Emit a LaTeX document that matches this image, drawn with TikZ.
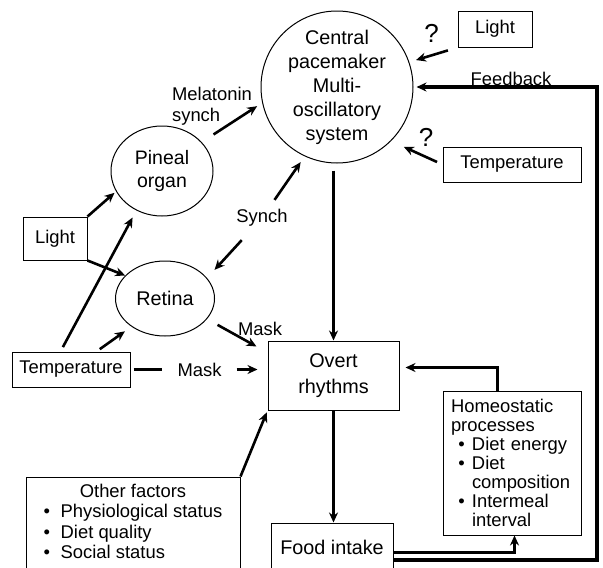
\documentclass[tikz,border=0pt]{standalone}
\usepackage{fontspec}
\setmainfont{Liberation Sans}
\usetikzlibrary{shapes.geometric, arrows.meta, calc}

\tikzset{
  box/.style={draw, line width=1pt, inner sep=0pt},
  oval/.style={ellipse, draw, line width=1pt, inner sep=0pt},
  arr/.style={line width=2.6pt, -{Stealth[length=10pt,width=9pt]}},
  lbl/.style={inner sep=0pt},
  big/.style={font=\fontsize{19.8}{24}\selectfont},
  qmark/.style={inner sep=0pt, font=\fontsize{26}{26}\selectfont},
}
\newcommand{\hbul}{\makebox[21pt]{\textbullet}}
\newcommand{\obul}{\makebox[17pt][l]{\textbullet}}

\begin{document}
\begin{tikzpicture}[x=1pt, y=-1pt, font=\fontsize{18.4}{24}\selectfont]
  \clip (0,0) rectangle (603,568);
  % clock and inputs
  \node[circle, draw, line width=1pt, minimum size=152pt, inner sep=0pt, align=center, big] (pace) at (337,87)
    {Central\\pacemaker\\Multi-\\oscillatory\\system};
  \node[oval, minimum width=102pt, minimum height=90pt, align=center, font=\fontsize{19.5}{23}\selectfont] (pineal) at (162,171) {Pineal\\organ};
  \node[oval, minimum width=99pt, minimum height=75pt, big] (retina) at (165,298.5) {Retina};
  \node[box, minimum width=64pt, minimum height=43pt] (lightL) at (55,238.5) {Light};
  \node[box, minimum width=118pt, minimum height=35pt] (tempL) at (71,369.5) {Temperature};
  \node[box, minimum width=74pt, minimum height=36pt] (lightR) at (495,29) {Light};
  \node[box, minimum width=138pt, minimum height=35pt] (tempR) at (512,164.5) {Temperature};
  % outputs
  \node[box, minimum width=131pt, minimum height=69pt, align=center, font=\fontsize{19.8}{26}\selectfont] (overt) at (333.5,375.5) {Overt\\rhythms};
  \node[box, minimum width=122pt, minimum height=48pt, big] (food) at (332,547) {Food intake};
  \node[box, minimum width=138pt, minimum height=144pt, text width=122pt, align=left, font=\fontsize{18.4}{19}\selectfont] (homeo) at (512,463)
    {Homeostatic\\processes\\\hbul Diet energy\\\hbul Diet\\\hspace*{21pt}composition\\\hbul Intermeal\\\hspace*{21pt}interval};
  \node[box, minimum width=214pt, minimum height=94pt, font=\fontsize{18.4}{20.5}\selectfont] (other) at (133,524)
    {\begin{tabular}{@{}l@{}}\multicolumn{1}{@{}c@{}}{Other factors}\\
     \obul Physiological status\hspace{6pt}\\ \obul Diet quality\\ \obul Social status\end{tabular}};
  % labels
  \node[lbl, align=left, font=\fontsize{18.4}{21}\selectfont] (melab) at (212,106) {Melatonin\\synch};
  \node[lbl] (synch) at (262,218) {Synch};
  \node[lbl] (maskR) at (260,329) {Mask};
  \node[lbl, inner xsep=15pt] (maskT) at (199.5,369.5) {Mask};
  \node[qmark] (q1) at (431.5,33) {?};
  \node[qmark] (q2) at (426,137.5) {?};
  \node[lbl] (fblab) at (511,79) {Feedback};
  % arrows
  \draw[arr, shorten >=2pt] (lightL.north east) -- (pineal.204);
  \draw[arr] (lightL.south east) -- (retina.150);
  \draw[arr, shorten <=5pt, shorten >=8pt] ($(tempL.north west)+(49,0)$) -- (pineal.237);
  \draw[arr, shorten <=4pt, shorten >=8pt] ($(tempL.north west)+(85,0)$) -- (retina.220);
  \draw[arr, shorten <=12pt] (retina.-26) -- ($(overt.north west)+(-11,6)$);
  \draw[line width=2.6pt, shorten <=3pt] (tempL.east) -- (maskT.west);
  \draw[arr, shorten >=10pt] (maskT.east) -- (maskT.east -| overt.west);
  \draw[arr, shorten >=2pt] (other.north east) -- (overt.south west);
  \draw[arr, shorten <=14pt, shorten >=6pt] (pineal.36) -- (pace.192);
  \draw[arr, shorten <=22pt, shorten >=7pt] (synch.center) -- (pace.245);
  \draw[arr, shorten <=30pt, shorten >=11pt] (synch.center) -- (retina.26);
  \draw[arr, shorten <=10pt, shorten >=7pt] (lightR.south west) -- (pace.19);
  \draw[arr, shorten <=6pt, shorten >=14pt] (tempR.west) -- (pace.-45);
  \draw[arr, shorten <=7pt] (overt.north |- pace.south) -- (overt.north);
  \draw[arr] (overt.south) -- (overt.south |- food.north);
  \draw[arr, shorten >=6pt] ($(homeo.north west)+(55,0)$) |- ($(overt.east)+(0,-8)$);
  \draw[arr] ($(food.north east)+(0,30)$) -| ($(homeo.south west)+(72,0)$);
  % feedback loop
  \coordinate (fbc) at (597,560);
  \draw[line width=3.5pt, -{Stealth[length=10pt,width=9pt]}, shorten >=3pt] (food.east |- fbc) -- (fbc) |- (pace.east);
\end{tikzpicture}
\end{document}
